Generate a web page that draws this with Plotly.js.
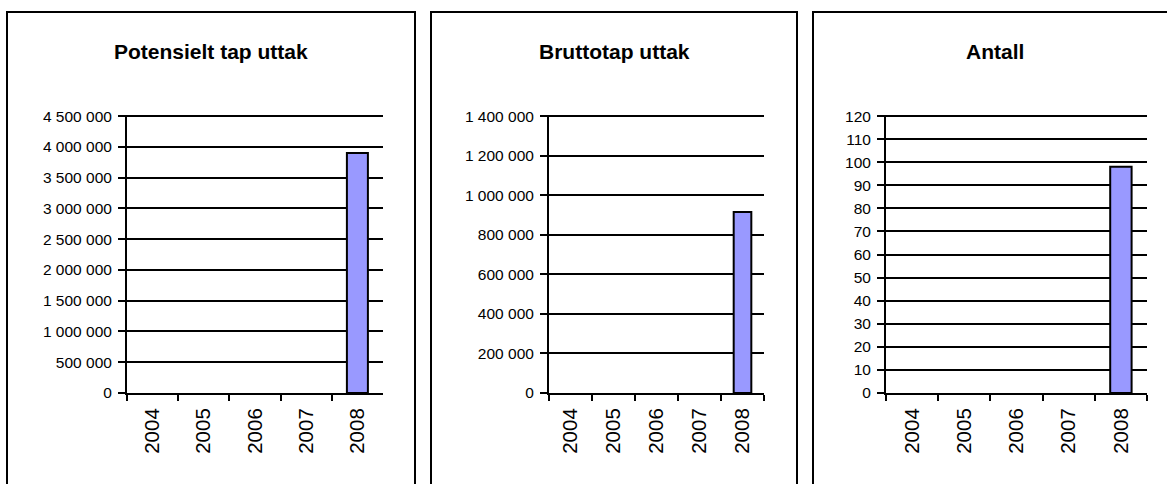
<!DOCTYPE html>
<html>
<head>
<meta charset="utf-8">
<script src="https://cdn.plot.ly/plotly-3.0.1.min.js"></script>
<style>
  html, body { margin: 0; padding: 0; background: white; }
  #plot { width: 1167px; height: 484px; }
</style>
</head>
<body>
<div id="plot"></div>
<script>
// -------------------------------
// DATA
// -------------------------------
const years = ["2004", "2005", "2006", "2007", "2008"];
const potensieltTap = [null, null, null, null, 3900000];
const bruttotap = [null, null, null, null, 915000];
const antall = [null, null, null, null, 98];

const titles = ["Potensielt tap uttak", "Bruttotap uttak", "Antall"];

// -------------------------------
// LAYOUT HELPERS (pixel -> paper)
// -------------------------------
const W = 1167, H = 484;
const px = (x) => x / W;
const py = (y) => 1 - y / H;

const FONT = "Liberation Sans, Arial, sans-serif";
const barColor = "#9999FF";

function barTrace(values, n) {
  return {
    type: "bar",
    x: years,
    y: values,
    xaxis: n === 1 ? "x" : "x" + n,
    yaxis: n === 1 ? "y" : "y" + n,
    marker: { color: barColor, line: { color: "#000", width: 2 } },
    hoverinfo: "x+y",
    showlegend: false
  };
}

function xAxis(domain, anchor) {
  return {
    domain: domain,
    anchor: anchor,
    type: "category",
    showline: true,
    linecolor: "#000",
    linewidth: 2,
    showgrid: false,
    ticks: "outside",
    tickson: "boundaries",
    ticklen: 6,
    tickwidth: 2,
    tickcolor: "#000",
    tickangle: -90,
    ticklabelstandoff: 5,
    tickfont: { family: FONT, size: 20.5, color: "#000" },
    fixedrange: true
  };
}

// tiny headroom so the grid line at the top value is still drawn
function yAxis(anchor, max, step) {
  return {
    domain: [py(393), py(115)],
    anchor: anchor,
    range: [0, max * 1.004],
    dtick: step,
    tick0: 0,
    tickformat: ",.0f",
    showline: true,
    linecolor: "#000",
    linewidth: 2,
    showgrid: true,
    gridcolor: "#000",
    gridwidth: 2,
    zeroline: false,
    ticks: "outside",
    ticklen: 7,
    tickwidth: 2,
    tickcolor: "#000",
    ticklabelstandoff: 3,
    tickfont: { family: FONT, size: 15.5, color: "#000" },
    fixedrange: true
  };
}

// panel frames
const frames = [[7, 415], [431, 797], [813, 1177]];
const shapes = frames.map(([a, b]) => ({
  type: "rect",
  xref: "paper", yref: "paper",
  x0: px(a), x1: px(b), y0: py(12), y1: -0.1,
  line: { color: "#000", width: 2 },
  fillcolor: "rgba(0,0,0,0)",
  layer: "below"
}));

const annotations = titles.map((t, i) => ({
  text: "<b>" + t + "</b>",
  xref: "paper", yref: "paper",
  x: px((frames[i][0] + frames[i][1]) / 2),
  y: py(52),
  xanchor: "center", yanchor: "middle",
  showarrow: false,
  font: { family: FONT, size: 21, color: "#000" }
}));

const layout = {
  width: W,
  height: H,
  margin: { l: 0, r: 0, t: 0, b: 0 },
  paper_bgcolor: "white",
  plot_bgcolor: "white",
  separators: ", ",
  bargap: 0.59,
  xaxis: xAxis([px(127), px(383)], "y"),
  yaxis: yAxis("x", 4500000, 500000),
  xaxis2: xAxis([px(549), px(764)], "y2"),
  yaxis2: yAxis("x2", 1400000, 200000),
  xaxis3: xAxis([px(886), px(1147)], "y3"),
  yaxis3: yAxis("x3", 120, 10),
  shapes: shapes,
  annotations: annotations
};

Plotly.newPlot(
  "plot",
  [barTrace(potensieltTap, 1), barTrace(bruttotap, 2), barTrace(antall, 3)],
  layout,
  { displayModeBar: false, staticPlot: true }
);
</script>
</body>
</html>
